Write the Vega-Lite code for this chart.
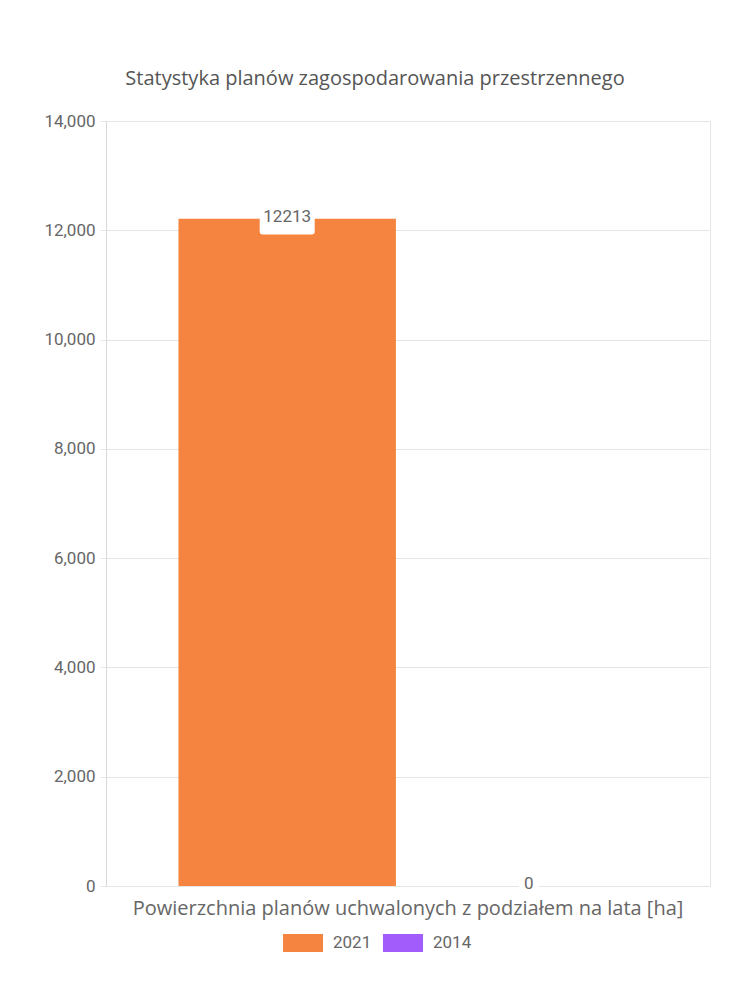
{
  "$schema": "https://vega.github.io/schema/vega-lite/v6.json",
  "width": 604,
  "height": 765,
  "autosize": "none",
  "padding": {"left": 106, "top": 121, "right": 40, "bottom": 114},
  "background": "white",
  "title": {
    "text": "Statystyka planów zagospodarowania przestrzennego",
    "font": "Open Sans",
    "fontSize": 20,
    "fontWeight": "normal",
    "color": "#555555",
    "anchor": "middle",
    "dx": -33,
    "baseline": "alphabetic",
    "offset": 7
  },
  "data": {
    "values": [
      {"kategoria": "Powierzchnia planów uchwalonych z podziałem na lata [ha]", "rok": "2021", "wartosc": 12213},
      {"kategoria": "Powierzchnia planów uchwalonych z podziałem na lata [ha]", "rok": "2014", "wartosc": 0}
    ]
  },
  "encoding": {
    "x": {
      "field": "kategoria",
      "type": "nominal",
      "scale": {"paddingInner": 0, "paddingOuter": 0.125},
      "axis": {
        "title": null,
        "labelAngle": 0,
        "labelFont": "Open Sans",
        "labelFontSize": 20,
        "labelColor": "#666666",
        "labelPadding": 12,
        "labelLimit": 700,
        "domain": false,
        "ticks": false,
        "grid": false
      }
    },
    "xOffset": {
      "field": "rok",
      "type": "nominal",
      "sort": ["2021", "2014"],
      "scale": {"paddingInner": 0.1, "paddingOuter": 0.05}
    },
    "y": {
      "field": "wartosc",
      "type": "quantitative",
      "scale": {"domain": [0, 14000], "nice": false},
      "axis": {
        "title": null,
        "values": [0, 2000, 4000, 6000, 8000, 10000, 12000, 14000],
        "format": ",d",
        "labelFont": "Roboto",
        "labelFontSize": 17,
        "labelColor": "#666666",
        "labelPadding": 5,
        "tickSize": 6,
        "tickColor": "#e5e5e5",
        "gridColor": "#e5e5e5",
        "domainColor": "#d9d9d9"
      }
    }
  },
  "layer": [
    {
      "mark": {"type": "bar"},
      "encoding": {
        "color": {
          "field": "rok",
          "type": "nominal",
          "sort": ["2021", "2014"],
          "scale": {"domain": ["2021", "2014"], "range": ["#f4843f", "#a15cfb"]},
          "legend": {
            "title": null,
            "orient": "none",
            "legendX": 177,
            "legendY": 802,
            "direction": "horizontal",
            "symbolType": "M -1 -0.45 L 1 -0.45 L 1 0.45 L -1 0.45 Z",
            "symbolSize": 1600,
            "symbolStrokeWidth": 0,
            "labelFont": "Roboto",
            "labelFontSize": 17,
            "labelColor": "#666666",
            "labelOffset": 10,
            "columnPadding": 11
          }
        }
      }
    },
    {
      "transform": [{"filter": "datum.rok == '2021'"}],
      "mark": {
        "type": "point",
        "filled": true,
        "color": "white",
        "opacity": 1,
        "size": 3025,
        "shape": "M -0.89 -0.69 L 0.89 -0.69 Q 1 -0.69 1 -0.58 L 1 0.47 Q 1 0.58 0.89 0.58 L -0.89 0.58 Q -1 0.58 -1 0.47 L -1 -0.58 Q -1 -0.69 -0.89 -0.69 Z"
      }
    },
    {
      "transform": [{"filter": "datum.rok == '2014'"}],
      "mark": {
        "type": "point",
        "filled": true,
        "color": "white",
        "opacity": 1,
        "size": 400,
        "shape": "M -0.7 -1.2 L 0.7 -1.2 Q 1 -1.2 1 -0.9 L 1 0.9 Q 1 1.2 0.7 1.2 L -0.7 1.2 Q -1 1.2 -1 0.9 L -1 -0.9 Q -1 -1.2 -0.7 -1.2 Z"
      }
    },
    {
      "mark": {
        "type": "text",
        "font": "Roboto",
        "fontSize": 17,
        "color": "#666666",
        "baseline": "middle",
        "dy": -2
      },
      "encoding": {"text": {"field": "wartosc", "type": "quantitative", "format": "d"}}
    }
  ],
  "config": {
    "view": {"stroke": "#e5e5e5"},
    "axis": {"gridWidth": 1}
  }
}
